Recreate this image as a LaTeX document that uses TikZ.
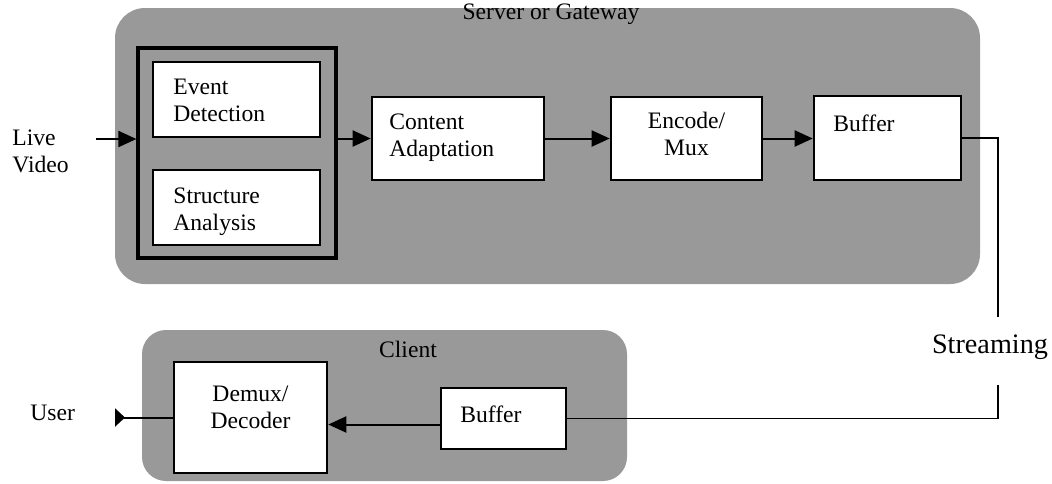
\documentclass[tikz,border=0pt]{standalone}
\usepackage{fontspec}
\setmainfont{Liberation Serif}
\usetikzlibrary{arrows.meta}
\begin{document}
\begin{tikzpicture}[x=0.5pt,y=-0.5pt,
  panel/.style={fill=black!40, draw=none},
  box/.style={draw=black, line width=1.3pt, fill=white, inner sep=0pt},
  grpbox/.style={draw=black, line width=1.6pt, inner sep=0pt},
  lbl/.style={inner sep=0pt, font=\fontsize{11.8}{13.5}\selectfont},
  conn/.style={draw=black, line width=1pt},
  arr/.style={conn, -{Triangle[length=9pt,width=8pt]}},
  uarr/.style={conn, -{Triangle[reversed,length=5pt,width=9pt]}},
  thin/.style={draw=black, line width=0.7pt}
]
\useasboundingbox (0,0) rectangle (1052,483);
% panels
\path[panel, rounded corners=15pt] (115,8) rectangle (980,284);
\path[panel, rounded corners=12pt] (142,330) rectangle (627,481);
\node[lbl, anchor=base] (srv) at (551,19) {Server or Gateway};
\node[lbl, anchor=base] (cli) at (408,357) {Client};
% boxes
\node[grpbox, minimum width=99pt, minimum height=105pt] (grp) at (237,153) {};
\node[box, minimum width=83.5pt, minimum height=37.5pt] (ed) at (236.5,99.5) {};
\node[box, minimum width=83.5pt, minimum height=37.5pt] (sa) at (236.5,207.5) {};
\node[box, minimum width=86pt, minimum height=41.5pt] (ca) at (458,138.5) {};
\node[box, minimum width=75.5pt, minimum height=41.5pt] (em) at (686.5,138.5) {};
\node[box, minimum width=73.5pt, minimum height=42pt] (bf) at (887.5,138) {};
\node[box, minimum width=76.5pt, minimum height=55.5pt] (dd) at (250.5,417.5) {};
\node[box, minimum width=62.5pt, minimum height=30.5pt] (cb) at (503.5,418.5) {};
% box labels
\node[lbl, anchor=north west, align=left] at (173,79) {Event\\Detection};
\node[lbl, anchor=north west, align=left] at (173,187) {Structure\\Analysis};
\node[lbl, anchor=north west, align=left] at (389,113) {Content\\Adaptation};
\node[lbl, anchor=north, align=center] at (686.5,112) {Encode/\\Mux};
\node[lbl, anchor=north west, align=left] at (833,114) {Buffer};
\node[lbl, anchor=north, align=center] at (250.5,386) {Demux/\\Decoder};
\node[lbl, anchor=north west, align=left] at (460,405) {Buffer};
% outside labels
\node[lbl, anchor=north west, align=left] (lv) at (12,129) {Live\\Video};
\node[lbl, anchor=base west] (usr) at (30,420) {User};
\node[inner sep=0pt, anchor=base, font=\fontsize{14.1}{16}\selectfont] (st) at (990,353) {Streaming};
% connectors
\coordinate (lvin) at (96,139);
\draw[arr] (lvin) -- (lvin -| grp.west);
\draw[arr] (grp.east |- ca.west) -- (ca.west);
\draw[arr] (ca.east) -- (em.west);
\draw[arr] (em.east) -- (em.east -| bf.west);
\coordinate (s1) at (998,317);
\coordinate (s2) at (998,385);
\draw[thin] (bf.east) -| (s1);
\draw[thin] (s2) |- (cb.east);
\coordinate (cbin) at ([yshift=-3pt]cb.west);
\draw[arr] (cbin) -- (cbin -| dd.east);
\coordinate (uout) at (115,417.5);
\draw[uarr] (dd.west) -- (uout);
\end{tikzpicture}
\end{document}
